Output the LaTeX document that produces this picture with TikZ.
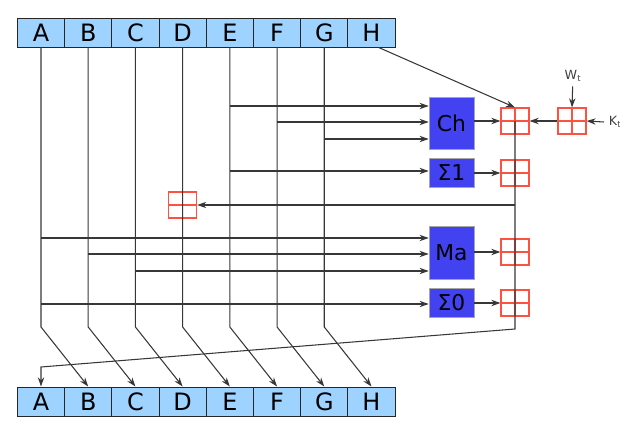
\documentclass[tikz,border=0pt]{standalone}
\usepackage{fontspec}
\setmainfont{DejaVu Sans}
\usetikzlibrary{arrows.meta}
\tikzset{>={Stealth[length = 6.5pt, width = 4.5pt]}}
\definecolor{regblue}{RGB}{158,210,255}
\definecolor{funcblue}{RGB}{66,66,240}
\definecolor{addred}{RGB}{255,80,64}
\definecolor{wiregray}{RGB}{55,55,55}
\tikzstyle{register} = [rectangle, text centered, inner sep = 0pt, minimum width = 1.18cm, minimum height = 0.725cm, draw = black!85, line width = 0.7pt, fill = regblue, font = \fontsize{17}{18}\selectfont]
\tikzstyle{function} = [rectangle, text centered, minimum width = 1.125cm, draw = black!35, fill = funcblue, font = \fontsize{15.5}{16}\selectfont]
\tikzstyle{adder} = [rectangle, minimum width = 0.7cm, minimum height = 0.65cm, draw = addred, line width = 0.75pt,
    path picture = {\draw [addred, line width = 0.75pt] (path picture bounding box.north) -- (path picture bounding box.south)
        (path picture bounding box.west) -- (path picture bounding box.east);}]
\tikzstyle{wire} = [draw = wiregray, line width = 0.75pt]
\tikzstyle{small} = [font = \fontsize{9}{10}\selectfont, text = black!75]

\begin{document}
\begin{tikzpicture}[x = 0.025cm, y = -0.025cm, node distance = 1.18cm]
    \useasboundingbox (0,0) rectangle (620,440);
    % state before the round
    \node (tA) [register] at (41,32.5) {A};
    \node (tB) [register, right of = tA] {B};
    \node (tC) [register, right of = tB] {C};
    \node (tD) [register, right of = tC] {D};
    \node (tE) [register, right of = tD] {E};
    \node (tF) [register, right of = tE] {F};
    \node (tG) [register, right of = tF] {G};
    \node (tH) [register, right of = tG] {H};
    % state after the round
    \node (bA) [register] at (41,401.5) {A};
    \node (bB) [register, right of = bA] {B};
    \node (bC) [register, right of = bB] {C};
    \node (bD) [register, right of = bC] {D};
    \node (bE) [register, right of = bD] {E};
    \node (bF) [register, right of = bE] {F};
    \node (bG) [register, right of = bF] {G};
    \node (bH) [register, right of = bG] {H};
    % round functions
    \node (Ch) [function, minimum height = 1.3cm] at (451.5,123) {Ch};
    \node (S1) [function, minimum height = 0.725cm] at (451.5,172.5) {Σ1};
    \node (Ma) [function, minimum height = 1.325cm] at (451.5,252.5) {Ma};
    \node (S0) [function, minimum height = 0.725cm] at (451.5,302.5) {Σ0};
    % adders
    \node (addCh) [adder] at (515,121) {};
    \node (addS1) [adder] at (515,173) {};
    \node (addMa) [adder] at (515,252) {};
    \node (addS0) [adder] at (515,303) {};
    \node (addW) [adder] at (572,121) {};
    \node (Wt) [small] at (573,76) {W\textsubscript{t}};
    \node (Kt) [small, anchor = west] at (604,122) {K\textsubscript{t}};
    \coordinate (tap) at (515,205);
    \node (addD) [adder] at (tD |- tap) {};
    % shift of the registers
    \coordinate (bend) at (0,327);
    \foreach \a/\b in {A/B, B/C, C/D, D/E, E/F, F/G, G/H}
        \draw [wire, ->] (t\a.south) -- (t\a.south |- bend) -- (b\b.north);
    % inputs of the functions
    \draw [wire, ->] (tE |- 0,106) -- (Ch.west |- 0,106);
    \draw [wire, ->] (tF |- 0,122) -- (Ch.west |- 0,122);
    \draw [wire, ->] (tG |- 0,139) -- (Ch.west |- 0,139);
    \draw [wire, ->] (tE |- 0,171) -- (S1.west |- 0,171);
    \draw [wire, ->] (tA |- 0,238) -- (Ma.west |- 0,238);
    \draw [wire, ->] (tB |- 0,254) -- (Ma.west |- 0,254);
    \draw [wire, ->] (tC |- 0,271) -- (Ma.west |- 0,271);
    \draw [wire, ->] (tA |- 0,304) -- (S0.west |- 0,304);
    % outputs to the adders
    \draw [wire, ->] (Ch.east |- addCh) -- (addCh.west);
    \draw [wire, ->] (S1.east |- addS1) -- (addS1.west);
    \draw [wire, ->] (Ma.east |- addMa) -- (addMa.west);
    \draw [wire, ->] (S0.east |- addS0) -- (addS0.west);
    \draw [wire, ->] ([xshift = 0.18cm]tH.south) -- (addCh.north);
    \draw [wire, ->] (Wt) -- (addW.north);
    \draw [wire, ->] (Kt.west) -- (addW.east);
    \draw [wire, ->] (addW.west) -- (addCh.east);
    % sum chain
    \draw [wire, ->] (addCh.center) -- (addCh |- 0,329) -- (bA.north |- 0,367) -- (bA.north);
    \draw [wire, ->] (tap) -- (addD.east);
\end{tikzpicture}
\end{document}
